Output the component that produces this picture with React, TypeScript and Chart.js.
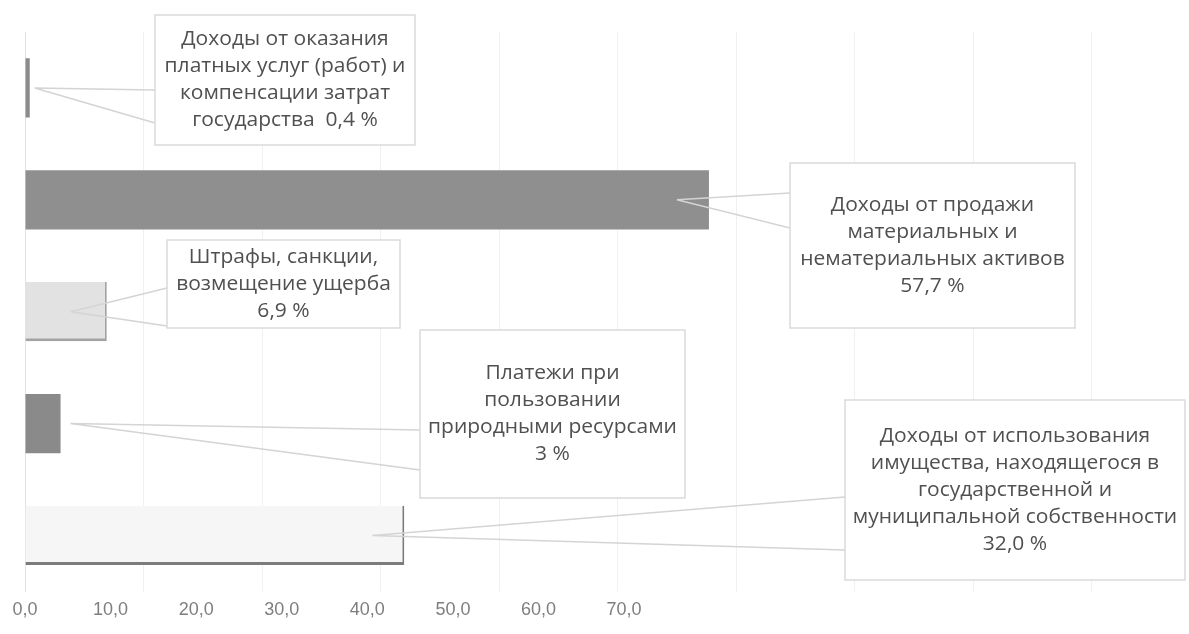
import React, { useEffect, useRef } from "react";
import { Chart, registerables } from "chart.js";

Chart.register(...registerables);

// ---- data ----
const CATEGORIES = [
  "Доходы от оказания платных услуг (работ) и компенсации затрат государства",
  "Доходы от продажи материальных и нематериальных активов",
  "Штрафы, санкции, возмещение ущерба",
  "Платежи при пользовании природными ресурсами",
  "Доходы от использования имущества, находящегося в государственной и муниципальной собственности",
];
const SHARE = [0.4, 57.7, 6.9, 3, 32.0];
const SHARE_LABELS = ["0,4 %", "57,7 %", "6,9 %", "3 %", "32,0 %"];
const CATEGORY_LINES = [
  ["Доходы от оказания", "платных услуг (работ) и", "компенсации затрат", "государства"],
  ["Доходы от продажи", "материальных и", "нематериальных активов"],
  ["Штрафы, санкции,", "возмещение ущерба"],
  ["Платежи при", "пользовании", "природными ресурсами"],
  ["Доходы от использования", "имущества, находящегося в", "государственной и", "муниципальной собственности"],
];
const TICK_VALUES = [0, 10, 20, 30, 40, 50, 60, 70];

// ---- styles / layout ----
const BAR_FILL = ["#8b8b8b", "#8f8f8f", "#e2e2e2", "#8a8a8a", "#f6f6f6"];
const BAR_BORDER = ["#8b8b8b", "#8f8f8f", "#a3a3a3", "#8a8a8a", "#7c7c7c"];
const BAR_BORDER_W = [
  0,
  0,
  { top: 0, left: 0, right: 2, bottom: 3 },
  0,
  { top: 0, left: 0, right: 2, bottom: 3 },
];
// box: [x, y, w, h]; apexDx relative to bar end; edge: y of wedge ends on box left side
const CALLOUT_LAYOUT = [
  { box: [155, 15, 260, 130], apexDx: 5, edge: [90, 123], inline: true },
  { box: [790, 163, 285, 165], apexDx: -32, edge: [193, 228], inline: false },
  { box: [167, 240, 233, 88], apexDx: -36, edge: [288, 326], inline: false },
  { box: [420, 330, 265, 168], apexDx: 10, edge: [430, 470], inline: false },
  { box: [845, 400, 340, 180], apexDx: -32, edge: [497, 550], inline: false },
];

const calloutPlugin = {
  id: "callouts",
  afterDatasetsDraw(chart: any) {
    const ctx = chart.ctx;
    const meta = chart.getDatasetMeta(0);
    ctx.save();
    CALLOUT_LAYOUT.forEach((c, i) => {
      const bar = meta.data[i];
      if (!bar) return;
      const ax = bar.x + c.apexDx;
      const ay = bar.y;
      const [bx, by, bw, bh] = c.box;
      // wedge lines
      ctx.strokeStyle = "#d4d4d4";
      ctx.lineWidth = 1.5;
      ctx.beginPath();
      ctx.moveTo(ax, ay);
      ctx.lineTo(bx, c.edge[0]);
      ctx.moveTo(ax, ay);
      ctx.lineTo(bx, c.edge[1]);
      ctx.stroke();
      // box
      ctx.fillStyle = "#ffffff";
      ctx.fillRect(bx, by, bw, bh);
      ctx.strokeStyle = "#dadada";
      ctx.lineWidth = 1.5;
      ctx.strokeRect(bx, by, bw, bh);
      // text
      const lines = CATEGORY_LINES[i].slice();
      if (c.inline) lines[lines.length - 1] = lines[lines.length - 1] + "  " + SHARE_LABELS[i];
      else lines.push(SHARE_LABELS[i]);
      const lh = 27;
      const cx = bx + bw / 2;
      const top = by + bh / 2 - ((lines.length - 1) * lh) / 2;
      ctx.fillStyle = "#505050";
      ctx.font = "20px 'Open Sans', 'Noto Sans', sans-serif";
      ctx.textAlign = "center";
      ctx.textBaseline = "middle";
      lines.forEach((l, k) => {
        ctx.save();
        ctx.translate(cx, top + k * lh);
        ctx.scale(1.05, 1);
        ctx.fillText(l, 0, 0);
        ctx.restore();
      });
    });
    ctx.restore();
  },
};

export default function App() {
  const ref = useRef<HTMLCanvasElement | null>(null);
  useEffect(() => {
    if (!ref.current) return;
    const chart = new Chart(ref.current, {
      type: "bar",
      data: {
        labels: CATEGORIES,
        datasets: [
          {
            data: SHARE,
            backgroundColor: BAR_FILL,
            borderColor: BAR_BORDER,
            borderWidth: (c: any) => BAR_BORDER_W[c.dataIndex] as any,
            borderSkipped: false,
            categoryPercentage: 1,
            barPercentage: 0.53,
            xAxisID: "x",
          },
        ],
      },
      options: {
        indexAxis: "y",
        animation: false,
        responsive: false,
        layout: { padding: { left: 17, right: 0, top: 32, bottom: 13 } },
        plugins: { legend: { display: false }, tooltip: { enabled: false } },
        scales: {
          y: {
            type: "category",
            ticks: { display: false },
            grid: { display: false },
            border: { display: true, color: "#e2e2e2", width: 1 },
          },
          x: {
            type: "linear",
            position: "top",
            min: 0,
            max: 98.2,
            ticks: { display: false, stepSize: 10 },
            grid: { color: "#f0f0f0", drawTicks: false },
            border: { display: false },
          },
          x2: {
            type: "linear",
            position: "bottom",
            min: 0,
            max: 136,
            afterBuildTicks: (axis: any) => {
              axis.ticks = TICK_VALUES.map((v) => ({ value: v }));
            },
            ticks: {
              autoSkip: false,
              maxRotation: 0,
              padding: 0,
              color: "#7e7e7e",
              font: { family: "'Liberation Sans', sans-serif", size: 18 },
              callback: (v: any) => Number(v).toFixed(1).replace(".", ","),
            },
            grid: { display: false },
            border: { display: false },
          },
        },
      },
      plugins: [calloutPlugin],
    } as any);
    return () => chart.destroy();
  }, []);
  return (
    <div style={{ position: "absolute", left: 0, top: 0, width: 1189, height: 634, background: "#fff" }}>
      <canvas ref={ref} width={1189} height={634} style={{ width: 1189, height: 634 }} />
    </div>
  );
}
